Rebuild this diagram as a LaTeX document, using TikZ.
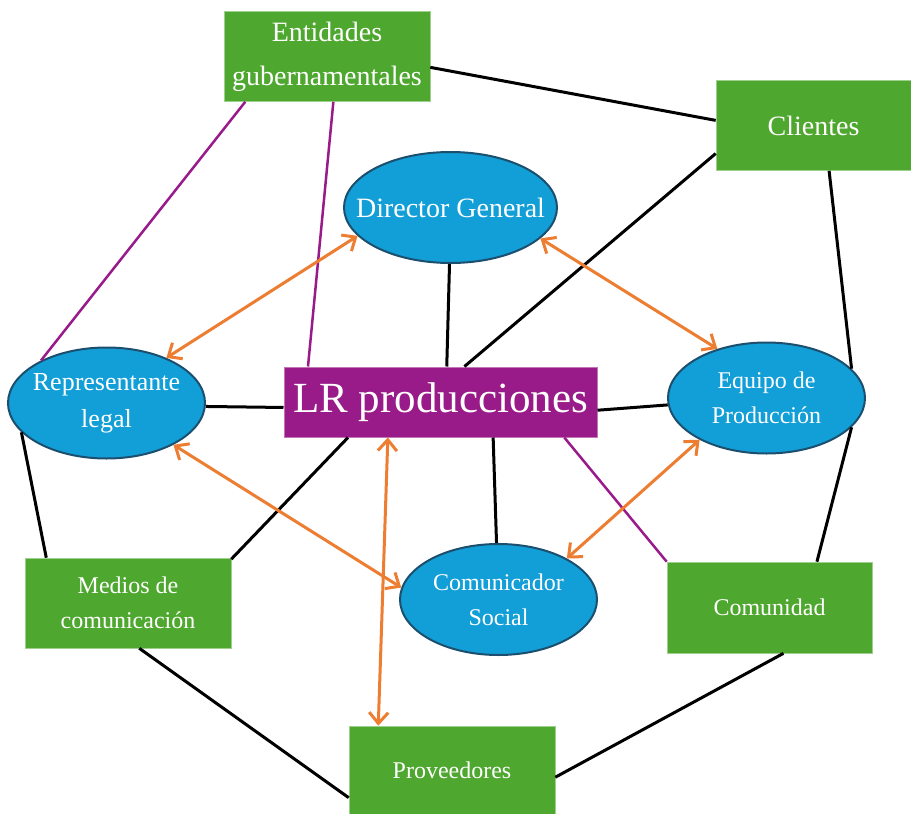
\documentclass[tikz,border=0pt]{standalone}
\usepackage{fontspec}
\setmainfont{Liberation Serif}
\usetikzlibrary{arrows.meta}
\usetikzlibrary{positioning}
\usetikzlibrary{shapes.geometric}
\definecolor{boxgreen}{HTML}{4EA72E}
\definecolor{roleblue}{HTML}{129ED6}
\definecolor{roleedge}{HTML}{1C4F6E}
\definecolor{coremag}{HTML}{991A89}
\definecolor{flowor}{HTML}{ED7D31}
\tikzset {
  % outside party
  party/.style = {
    fill = boxgreen,
    draw = boxgreen!55!white,
    line width = 0.6pt,
    text = white,
    align = center,
    inner sep = 0,
    minimum width = 206pt,
    minimum height = 90pt,
    font = \fontsize{24}{35}\selectfont
  },
  % inside role, the size comes from the minimum only
  role/.style = {
    ellipse,
    fill = roleblue,
    draw = roleedge,
    line width = 2pt,
    text = white,
    align = center,
    inner xsep = -40pt,
    inner ysep = -20pt,
    minimum width = 197pt,
    minimum height = 111pt,
    font = \fontsize{24}{35}\selectfont
  },
  % the company
  core/.style = {
    fill = coremag,
    draw = coremag!60!white,
    line width = 1pt,
    text = white,
    inner sep = 0,
    minimum width = 313pt,
    minimum height = 70pt,
    font = \fontsize{43}{50}\selectfont
  }
}
\tikzset {
  link/.style = {
    draw = black,
    line width = 3pt
  },
  tie/.style = {
    draw = coremag,
    line width = 2.5pt
  },
  % two way flow
  flow/.style = {
    draw = flowor,
    line width = 3pt,
    {Straight Barb[length=11pt,width=19pt]}-{Straight Barb[length=11pt,width=19pt]}
  }
}
\begin{document}
\begin{tikzpicture}[x=1pt, y=-1pt]
  \useasboundingbox (0,0) rectangle (911,814);

  \node[party, font=\fontsize{28}{44}\selectfont] (ent) at (327,56.5) {Entidades\\gubernamentales};
  \node[party, font=\fontsize{28}{34}\selectfont, minimum width=195pt] (cli) at (813.5,125.5) {Clientes};
  \node[role, font=\fontsize{28}{34}\selectfont, minimum width=213pt] (dir) at (450.5,207.5) {Director General};
  \node[role, font=\fontsize{26}{37}\selectfont] (rep) at (106.5,403) {Representante\\legal};
  \node[core] (lr) at (440.5,402) {LR producciones};
  \node[role] (eq) at (766.5,398) {Equipo de\\Producción};
  \node[role] (soc) at (498.5,599.5) {Comunicador\\Social};
  \node[party] (med) at (128,603) {Medios de\\comunicación};
  \node[party, minimum width=205pt, minimum height=91pt] (com) at (769.5,607.5) {Comunidad};
  \node[party, minimum height=88pt] (pro) at (452,770) {Proveedores};

  \draw[link] (ent.-6) -- (cli.177);
  \draw[link] (cli.-164) -- (lr.56);
  \draw[link] (cli.-71) -- (eq.19);
  \draw[link] (eq.-19) -- (com.44);
  \draw[link] (dir.-91) -- (lr.80);
  \draw[link] (rep.-2) -- (lr.182);
  \draw[link] (lr.-3) -- (eq.184);
  \draw[link] (lr.-34) -- (soc.92);
  \draw[link] (lr.-159) -- (med.23);
  \draw[link] (rep.-161) -- (med.151);
  \draw[link] (med.-76) -- (pro.-165);
  \draw[link] (pro.-4) -- (com.-73);

  \draw[tie] (ent.-151) -- (rep.147);
  \draw[tie] (ent.-82) -- (lr.165);
  \draw[tie] (lr.-16) -- (com.north west);

  \draw[flow] (dir.-163) -- (rep.37);
  \draw[flow] (dir.-19) -- (eq.135);
  \draw[flow] (rep.-32) -- (soc.173);
  \draw[flow] (eq.-148) -- (soc.31);
  \draw[flow] (lr.-146) -- (pro.149);
\end{tikzpicture}
\end{document}
